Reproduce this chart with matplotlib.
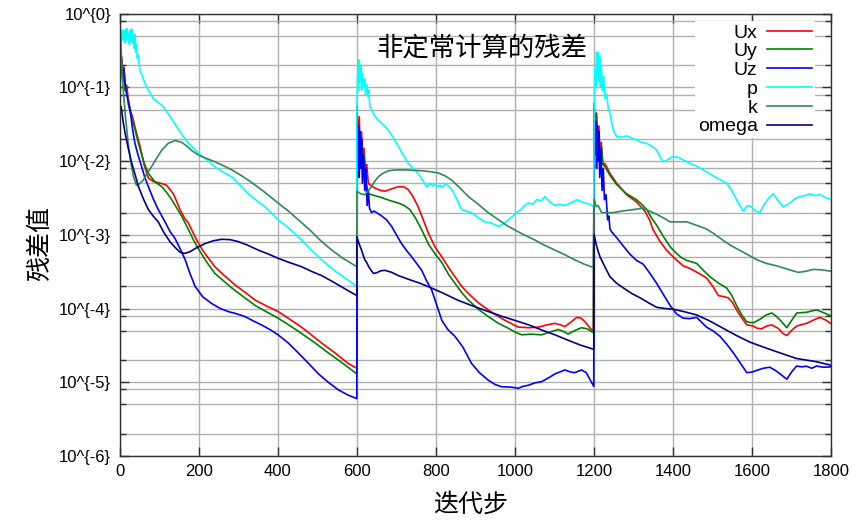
import matplotlib
matplotlib.use("Agg")
import matplotlib.pyplot as plt

plt.rcParams['font.family'] = ['Liberation Sans', 'Noto Sans CJK SC', 'DejaVu Sans']

# residual history, (iteration, residual)
ux_pts = [(0,0.30),(3,0.20),(5,0.26),(8,0.15),(11,0.19),(14,0.11),(18,0.107),(22,0.07),(27,0.049),(33,0.04),
          (39,0.029),(45,0.022),(52,0.0158),(62,0.009),(73,0.0059),(85,0.0053),(98,0.0051),(110,0.0049),(119,0.0047),
          (128,0.0041),(136,0.0036),(145,0.0028),(153,0.0022),(164,0.0017),(174,0.00145),(185,0.0011),(195,8.5e-4),
          (210,6.2e-4),(225,4.8e-4),(241,3.7e-4),(265,2.8e-4),(292,2.1e-4),(318,1.65e-4),(343,1.3e-4),(372,1.08e-4),
          (401,9.1e-5),(430,7.2e-5),(460,5.6e-5),(485,4.4e-5),(511,3.4e-5),(545,2.5e-5),(578,1.8e-5),(600,1.55e-5),
          (600,0.055),(603,0.02),(606,0.04),(609,0.012),(612,0.025),(615,0.009),(618,0.015),(622,0.007),(625,0.009),
          (629,0.005),(637,0.0046),(646,0.0043),(660,0.0040),(671,0.0039),(688,0.0042),(705,0.0045),(718,0.0045),
          (730,0.0041),(742,0.0033),(755,0.0024),(768,0.0016),(781,0.00105),(798,6.8e-4),(815,5.0e-4),(832,3.6e-4),
          (848,2.7e-4),(865,2.0e-4),(882,1.6e-4),(907,1.2e-4),(932,9.6e-5),(955,8.0e-5),(975,6.9e-5),(1008,5.6e-5),
          (1035,5.5e-5),(1059,5.6e-5),(1080,6.0e-5),(1101,6.3e-5),(1115,6.0e-5),(1126,5.7e-5),(1142,6.6e-5),
          (1156,7.6e-5),(1167,7.4e-5),(1177,6.6e-5),(1190,5.4e-5),(1198,4.9e-5),
          (1200,0.061),(1203,0.025),(1206,0.045),(1209,0.015),(1212,0.03),(1215,0.011),(1218,0.018),(1222,0.009),
          (1227,0.0093),(1240,0.0068),(1257,0.0050),(1282,0.0035),(1307,0.0028),(1328,0.0021),(1340,0.0016),
          (1349,0.00117),(1366,8.2e-4),(1383,6.2e-4),(1400,5.0e-4),(1425,3.8e-4),(1442,3.5e-4),(1465,3.0e-4),
          (1484,2.6e-4),(1500,2.0e-4),(1514,1.5e-4),(1528,1.45e-4),(1539,1.4e-4),(1550,1.2e-4),(1560,9.6e-5),
          (1573,7.5e-5),(1586,6.0e-5),(1602,5.8e-5),(1612,5.4e-5),(1623,5.3e-5),(1636,5.8e-5),(1649,6.0e-5),
          (1665,5.4e-5),(1677,4.6e-5),(1687,4.3e-5),(1700,5.1e-5),(1712,5.8e-5),(1737,6.3e-5),(1755,7.0e-5),
          (1771,7.6e-5),(1785,7.0e-5),(1800,6.2e-5)]

uy_pts = [(0,0.25),(3,0.16),(5,0.22),(8,0.12),(11,0.17),(14,0.09),(18,0.1),(22,0.06),(27,0.046),(33,0.035),
          (39,0.027),(45,0.02),(52,0.0145),(62,0.0095),(73,0.0068),(90,0.0052),(107,0.0045),(120,0.0037),(132,0.0030),
          (145,0.0023),(157,0.0018),(172,0.00125),(187,8.5e-4),(199,6.5e-4),(220,4.3e-4),(241,3.0e-4),(262,2.4e-4),
          (284,1.9e-4),(313,1.45e-4),(343,1.1e-4),(372,9.0e-5),(401,7.4e-5),(430,5.9e-5),(460,4.6e-5),(495,3.4e-5),
          (528,2.5e-5),(565,1.8e-5),(600,1.3e-5),
          (600,0.045),(603,0.015),(606,0.03),(609,0.01),(612,0.02),(615,0.007),(618,0.012),(622,0.0055),(629,0.0036),
          (646,0.0034),(663,0.0032),(685,0.0029),(705,0.0027),(720,0.0025),(734,0.0022),(748,0.0017),(764,0.00117),
          (781,7.5e-4),(798,5.5e-4),(815,4.2e-4),(832,2.9e-4),(848,2.2e-4),(865,1.65e-4),(882,1.3e-4),(907,9.8e-5),
          (932,7.8e-5),(958,6.3e-5),(983,5.4e-5),(1000,4.8e-5),(1017,4.4e-5),(1040,4.5e-5),(1067,4.4e-5),
          (1088,4.8e-5),(1109,5.2e-5),(1122,4.9e-5),(1134,4.5e-5),(1150,5.0e-5),(1168,5.5e-5),(1183,5.3e-5),
          (1198,4.7e-5),
          (1200,0.05),(1203,0.02),(1206,0.04),(1209,0.013),(1212,0.025),(1215,0.01),(1218,0.016),(1222,0.009),
          (1227,0.0085),(1240,0.0064),(1257,0.0048),(1282,0.0036),(1307,0.0030),(1320,0.0026),(1333,0.0022),
          (1345,0.0017),(1358,0.00135),(1375,9.5e-4),(1392,6.9e-4),(1408,5.6e-4),(1421,4.9e-4),(1434,4.5e-4),
          (1459,4.1e-4),(1476,3.3e-4),(1493,2.7e-4),(1515,2.2e-4),(1535,1.9e-4),(1548,1.5e-4),(1560,1.1e-4),
          (1573,8.2e-5),(1586,6.6e-5),(1602,6.4e-5),(1620,7.2e-5),(1635,8.2e-5),(1649,8.7e-5),(1660,7.9e-5),
          (1670,7.0e-5),(1687,5.5e-5),(1700,7.0e-5),(1712,8.7e-5),(1737,8.9e-5),(1762,9.6e-5),(1780,8.8e-5),
          (1800,7.9e-5)]

uz_pts = [(0,0.28),(3,0.17),(5,0.235),(8,0.13),(11,0.18),(14,0.114),(18,0.08),(22,0.065),(27,0.049),(33,0.027),
          (39,0.0174),(47,0.012),(56,0.0084),(64,0.006),(73,0.0045),(85,0.0031),(98,0.0022),(115,0.0015),
          (128,0.0011),(140,9.0e-4),(153,6.5e-4),(166,4.6e-4),(178,3.0e-4),(191,2.0e-4),(210,1.45e-4),
          (233,1.17e-4),(255,1.0e-4),(275,9.1e-5),(296,8.5e-5),(317,7.8e-5),(338,6.8e-5),(359,6.0e-5),
          (380,5.2e-5),(401,4.4e-5),(427,3.4e-5),(452,2.5e-5),(478,1.8e-5),(503,1.3e-5),(528,1.0e-5),
          (553,7.9e-6),(578,6.7e-6),(600,6.0e-6),
          (600,0.045),(602,0.01),(604,0.03),(606,0.006),(608,0.025),(610,0.008),(612,0.02),(614,0.005),(617,0.012),
          (620,0.004),(623,0.008),(626,0.0025),(629,0.004),(632,0.0023),(637,0.0020),(643,0.0021),(650,0.0020),
          (663,0.0018),(675,0.0016),(688,0.0013),(700,0.0010),(713,7.6e-4),(726,6.1e-4),(739,5.0e-4),(751,4.1e-4),
          (764,3.3e-4),(776,2.4e-4),(789,1.8e-4),(800,1.2e-4),(815,6.9e-5),(830,5.2e-5),(848,4.2e-5),(868,3.0e-5),
          (890,1.8e-5),(910,1.35e-5),(932,1.07e-5),(950,9.3e-6),(966,8.7e-6),(990,8.6e-6),(1008,8.3e-6),
          (1020,8.8e-6),(1033,9.1e-6),(1050,9.8e-6),(1067,1.02e-5),(1085,1.15e-5),(1101,1.3e-5),(1126,1.47e-5),
          (1140,1.38e-5),(1151,1.35e-5),(1168,1.47e-5),(1180,1.35e-5),(1194,9.8e-6),(1199,8.8e-6),
          (1200,0.05),(1202,0.012),(1204,0.035),(1206,0.008),(1208,0.03),(1210,0.01),(1212,0.025),(1214,0.006),
          (1217,0.015),(1220,0.004),(1223,0.008),(1226,0.003),(1230,0.0035),(1234,0.0016),(1237,0.0018),
          (1240,0.0012),(1244,0.0011),(1258,9.0e-4),(1274,7.0e-4),(1290,5.5e-4),(1307,4.5e-4),(1324,4.0e-4),
          (1341,3.0e-4),(1358,2.2e-4),(1375,1.55e-4),(1392,1.1e-4),(1408,8.5e-5),(1425,7.4e-5),(1442,7.3e-5),
          (1459,7.6e-5),(1472,6.5e-5),(1484,5.6e-5),(1500,5.0e-5),(1518,4.2e-5),(1535,3.3e-5),(1552,2.5e-5),
          (1570,1.8e-5),(1586,1.35e-5),(1600,1.38e-5),(1611,1.45e-5),(1628,1.55e-5),(1644,1.6e-5),(1658,1.45e-5),
          (1670,1.3e-5),(1687,1.1e-5),(1700,1.4e-5),(1712,1.66e-5),(1725,1.62e-5),(1737,1.65e-5),(1750,1.55e-5),
          (1762,1.66e-5),(1780,1.6e-5),(1800,1.62e-5)]

p_pts = [(0,1.0),(1,0.5),(3,0.62),(5,0.42),(7,0.6),(9,0.45),(11,0.58),(13,0.40),(15,0.61),(17,0.44),(19,0.63),
         (21,0.47),(23,0.56),(25,0.38),(27,0.6),(29,0.42),(31,0.62),(33,0.4),(35,0.5),(37,0.34),(39,0.52),(41,0.3),
         (43,0.38),(45,0.25),(47,0.28),(50,0.2),(52,0.17),(60,0.13),(69,0.10),(77,0.084),(85,0.071),(98,0.062),
         (111,0.055),(128,0.04),(145,0.029),(160,0.022),(174,0.0175),(187,0.015),(199,0.0128),(220,0.0105),
         (241,0.0084),(262,0.0071),(284,0.0061),(305,0.0047),(326,0.0036),(347,0.0029),(368,0.0024),(401,0.0016),
         (427,0.00125),(460,8.5e-4),(485,6.2e-4),(511,4.6e-4),(540,3.4e-4),(570,2.6e-4),(600,2.0e-4),
         (600,0.05),(602,0.15),(604,0.09),(606,0.235),(608,0.12),(610,0.2),(612,0.092),(614,0.156),(617,0.10),
         (620,0.13),(622,0.08),(625,0.11),(628,0.075),(630,0.092),(633,0.055),(640,0.046),(646,0.040),(659,0.034),
         (670,0.03),(680,0.026),(692,0.021),(705,0.0158),(718,0.012),(730,0.0093),(742,0.008),(755,0.0068),
         (766,0.0055),(777,0.0045),(785,0.0050),(792,0.0046),(798,0.0049),(805,0.0045),(810,0.0047),(816,0.0044),
         (823,0.0049),(832,0.0046),(840,0.0041),(852,0.0031),(865,0.0022),(877,0.0021),(890,0.0020),(907,0.0017),
         (924,0.0015),(940,0.00145),(958,0.0013),(970,0.0014),(983,0.0016),(995,0.0018),(1004,0.0020),
         (1015,0.0022),(1024,0.0025),(1033,0.0027),(1045,0.0026),(1055,0.0030),(1066,0.0029),(1076,0.0033),
         (1088,0.0028),(1101,0.0025),(1113,0.0026),(1126,0.0025),(1140,0.0027),(1156,0.0030),(1168,0.0028),
         (1177,0.0027),(1190,0.0026),(1199,0.0024),
         (1200,0.06),(1202,0.18),(1204,0.1),(1206,0.3),(1208,0.15),(1210,0.30),(1212,0.12),(1214,0.26),(1216,0.1),
         (1218,0.2),(1221,0.09),(1224,0.14),(1228,0.07),(1232,0.08),(1236,0.05),(1240,0.045),(1245,0.032),
         (1250,0.025),(1257,0.0214),(1270,0.021),(1282,0.022),(1295,0.0205),(1307,0.0194),(1320,0.018),
         (1333,0.0174),(1345,0.016),(1358,0.0141),(1368,0.011),(1375,0.0098),(1383,0.0102),(1392,0.011),
         (1400,0.0115),(1413,0.0112),(1428,0.0102),(1442,0.0093),(1460,0.0085),(1476,0.0076),(1493,0.0067),
         (1510,0.0059),(1522,0.0055),(1535,0.0050),(1548,0.0040),(1560,0.0030),(1570,0.0024),(1577,0.0021),
         (1588,0.0025),(1598,0.0024),(1608,0.0021),(1619,0.0020),(1630,0.0026),(1643,0.0032),(1653,0.0036),
         (1665,0.0029),(1678,0.0024),(1695,0.0027),(1708,0.0031),(1720,0.0033),(1732,0.0034),(1745,0.0036),
         (1758,0.0034),(1771,0.0035),(1785,0.0032),(1800,0.0030)]

k_pts = [(0,1.0),(4,0.32),(7,0.16),(10,0.083),(15,0.04),(22,0.0174),(28,0.010),(35,0.0062),(43,0.0047),
         (50,0.0049),(60,0.0055),(70,0.0068),(81,0.0084),(94,0.011),(107,0.0141),(123,0.0174),(140,0.019),
         (157,0.018),(170,0.016),(182,0.014),(195,0.0125),(208,0.0115),(225,0.0106),(241,0.0098),(262,0.0087),
         (284,0.0076),(305,0.0065),(326,0.0055),(364,0.0039),(401,0.0027),(427,0.0021),(452,0.0016),(480,0.00118),
         (507,8.5e-4),(535,6.3e-4),(565,4.8e-4),(600,3.7e-4),
         (600,0.0039),(610,0.0036),(620,0.0035),(628,0.0039),(637,0.0045),(645,0.0053),(654,0.0061),(665,0.0068),
         (680,0.0074),(700,0.0076),(722,0.0076),(743,0.0075),(764,0.0074),(785,0.0072),(806,0.0069),(823,0.0063),
         (840,0.0055),(861,0.0043),(882,0.0033),(907,0.0026),(932,0.0020),(958,0.0016),(983,0.0013),(1015,0.00105),
         (1050,8.5e-4),(1075,7.2e-4),(1101,6.2e-4),(1125,5.4e-4),(1150,4.6e-4),(1175,4.0e-4),(1198,3.6e-4),
         (1200,0.0031),(1205,0.0024),(1210,0.0025),(1219,0.0020),(1235,0.0020),(1248,0.0020),(1270,0.0021),
         (1299,0.0022),(1324,0.0023),(1340,0.0021),(1358,0.0019),(1375,0.0017),(1392,0.0015),(1413,0.0015),
         (1434,0.0015),(1450,0.0014),(1467,0.0013),(1484,0.0012),(1501,0.00105),(1525,8.5e-4),(1543,7.3e-4),
         (1560,6.5e-4),(1585,5.5e-4),(1611,4.6e-4),(1635,4.1e-4),(1661,3.8e-4),(1690,3.4e-4),(1716,3.1e-4),
         (1735,3.2e-4),(1754,3.4e-4),(1775,3.35e-4),(1800,3.2e-4)]

omega_pts = [(0,0.045),(4,0.055),(9,0.035),(14,0.024),(22,0.015),(31,0.0093),(40,0.0064),(48,0.0045),(60,0.0031),
             (73,0.0022),(85,0.0018),(98,0.0015),(111,0.0011),(128,8.0e-4),(140,6.8e-4),(153,5.8e-4),(165,5.6e-4),
             (178,5.9e-4),(195,6.7e-4),(216,7.6e-4),(237,8.3e-4),(258,8.7e-4),(280,8.6e-4),(300,8.1e-4),
             (325,7.2e-4),(351,6.2e-4),(376,5.5e-4),(401,4.8e-4),(430,4.2e-4),(460,3.7e-4),(485,3.2e-4),
             (511,2.8e-4),(540,2.3e-4),(570,1.85e-4),(600,1.5e-4),
             (600,9.4e-4),(606,7.5e-4),(612,6.2e-4),(616,5.3e-4),(620,4.6e-4),(625,4.2e-4),(630,3.7e-4),
             (636,3.3e-4),(642,3.0e-4),(650,3.05e-4),(660,3.25e-4),(671,3.3e-4),(688,3.1e-4),(705,2.8e-4),
             (730,2.5e-4),(760,2.2e-4),(789,1.9e-4),(820,1.6e-4),(855,1.3e-4),(890,1.1e-4),(930,9.2e-5),
             (965,7.9e-5),(1000,6.9e-5),(1035,6.0e-5),(1068,5.1e-5),(1101,4.4e-5),(1135,3.7e-5),(1165,3.2e-5),
             (1199,2.8e-5),
             (1200,1.0e-3),(1205,7.5e-4),(1210,6.0e-4),(1215,5.0e-4),(1228,3.6e-4),(1240,2.7e-4),(1257,2.2e-4),
             (1274,1.9e-4),(1295,1.6e-4),(1316,1.4e-4),(1337,1.2e-4),(1358,1.04e-4),(1380,1.0e-4),(1400,9.8e-5),
             (1430,9.0e-5),(1459,8.2e-5),(1492,6.8e-5),(1526,5.4e-5),(1560,4.3e-5),(1594,3.5e-5),(1628,3.0e-5),
             (1661,2.6e-5),(1690,2.3e-5),(1712,2.1e-5),(1737,2.0e-5),(1762,1.9e-5),(1780,1.8e-5),(1800,1.7e-5)]

series = [('Ux', ux_pts, '#ff0000'),
          ('Uy', uy_pts, '#008000'),
          ('Uz', uz_pts, '#0000ff'),
          ('p', p_pts, '#00ffff'),
          ('k', k_pts, '#2e8b57'),
          ('omega', omega_pts, '#00008b')]

x_ticks = [0, 200, 400, 600, 800, 1000, 1200, 1400, 1600, 1800]
y_ticks = [1, 1e-1, 1e-2, 1e-3, 1e-4, 1e-5, 1e-6]
y_tick_labels = ['10^{0}', '10^{-1}', '10^{-2}', '10^{-3}', '10^{-4}', '10^{-5}', '10^{-6}']
y_minor = [m * 10.0 ** e for e in range(-6, 0) for m in (2, 5, 8)]

fig = plt.figure(figsize=(8.58, 5.27), dpi=100)
ax = fig.add_axes([0.1393, 0.1347, 0.8298, 0.8394])

for name, pts, col in series:
    it = [a for a, b in pts]
    res = [b for a, b in pts]
    ax.plot(it, res, color=col, lw=1.2, label=name)

ax.set_yscale('log')
ax.set_xlim(0, 1800)
ax.set_ylim(1e-6, 1)
ax.set_xticks(x_ticks)
ax.set_yticks(y_ticks, y_tick_labels)
ax.set_yticks(y_minor, minor=True)
ax.yaxis.set_minor_formatter(matplotlib.ticker.NullFormatter())
ax.tick_params(which='both', direction='in', top=True, right=True, labelsize=12, color='#303030')
ax.tick_params(which='major', length=6.5, width=1, pad=6)
ax.tick_params(which='minor', length=4, width=1)
ax.grid(True, which='both', color='#b0b0b0', lw=1.0)
ax.set_axisbelow(True)
for s in ax.spines.values():
    s.set_color('#303030')
    s.set_linewidth(1.0)

fig.text(482 / 858, 1 - 48 / 527, '非定常计算的残差', fontsize=19, ha='center', va='center',
         family=['Noto Sans CJK SC'])
fig.text(471 / 858, 1 - 505 / 527, '迭代步', fontsize=18, ha='center', va='center',
         family=['Noto Sans CJK SC'])
fig.text(40 / 858, 1 - 243 / 527, '残差值', fontsize=18, ha='center', va='center', rotation=90,
         family=['Noto Sans CJK SC'])

leg = ax.legend(loc='upper right', bbox_to_anchor=(815 / 858, 1 - 21 / 527), bbox_transform=fig.transFigure,
                markerfirst=False, fontsize=14, handlelength=2.3, handletextpad=0.5, labelspacing=0.06,
                borderpad=0.15, borderaxespad=0, fancybox=False, framealpha=1, edgecolor='none')

fig.savefig('out.png', dpi=100)
